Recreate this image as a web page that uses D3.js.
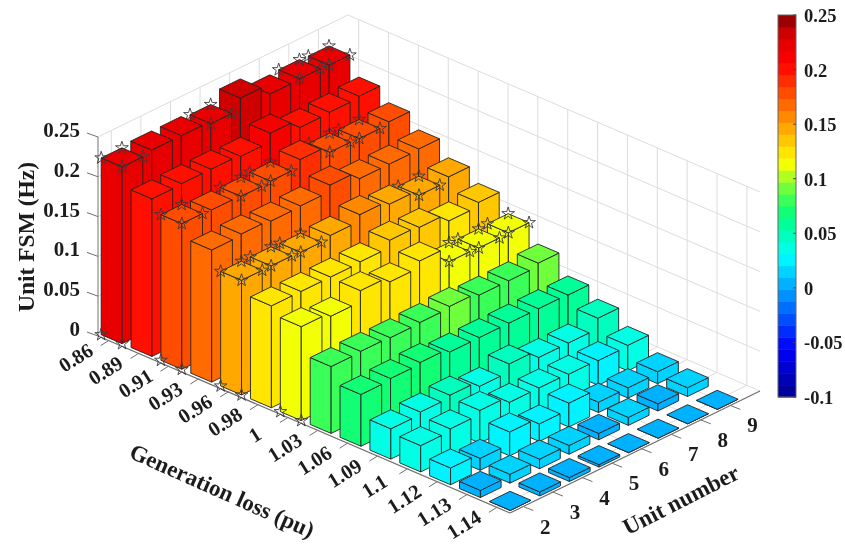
<!DOCTYPE html>
<html lang="en">
<head>
    <meta charset="UTF-8">
    <title>Unit FSM</title>
    <script src="https://d3js.org/d3.v7.min.js"></script>
    <style>
        html, body {
            margin: 0;
            background: #fff;
        }

        svg {
            display: block;
            filter: blur(0.4px);
        }

        text {
            font-family: "Liberation Serif", serif;
            font-weight: bold;
            fill: #1c1c1c;
        }
    </style>
</head>

<body>
<svg id="chart"></svg>

<script>
    const genLoss = ["0.86", "0.89", "0.91", "0.93", "0.96", "0.98", "1", "1.03", "1.06", "1.09", "1.1", "1.12", "1.13", "1.14"];
    const units = [2, 3, 4, 5, 6, 7, 8, 9];
    const zTicks = [0, 0.05, 0.1, 0.15, 0.2, 0.25];
    const zLabels = ["0", "0.05", "0.1", "0.15", "0.2", "0.25"];
    const cbTicks = [-0.1, -0.05, 0, 0.05, 0.1, 0.15, 0.2, 0.25];
    const cbLabels = ["-0.1", "-0.05", "0", "0.05", "0.1", "0.15", "0.2", "0.25"];

    // one row per generation loss, columns are units 2..9
    const fsm = [
        [0.222, 0.225, 0.225, 0.222, 0.236, 0.223, 0.224, 0.223],
        [0.198, 0.199, 0.199, 0.197, 0.208, 0.197, 0.198, 0.200],
        [0.183, 0.182, 0.181, 0.182, 0.191, 0.182, 0.181, 0.184],
        [0.166, 0.168, 0.166, 0.167, 0.175, 0.165, 0.165, 0.166],
        [0.144, 0.144, 0.143, 0.146, 0.154, 0.149, 0.142, 0.147],
        [0.128, 0.128, 0.128, 0.129, 0.138, 0.136, 0.126, 0.131],
        [0.118, 0.113, 0.127, 0.120, 0.128, 0.109, 0.108, 0.109],
        [0.084, 0.085, 0.084, 0.085, 0.087, 0.083, 0.083, 0.087],
        [0.065, 0.067, 0.069, 0.064, 0.064, 0.064, 0.064, 0.063],
        [0.038, 0.041, 0.044, 0.037, 0.047, 0.037, 0.037, 0.050],
        [0.033, 0.036, 0.041, 0.033, 0.033, 0.032, 0.031, 0.032],
        [0.021, 0.015, 0.030, 0.022, 0.030, 0.013, 0.013, 0.015],
        [0.009, 0.011, 0.012, 0.011, 0.008, 0.010, 0.009, 0.011],
        [0.000, 0.005, 0.005, 0.003, 0.000, 0.000, 0.000, 0.000]
    ];

    // starred bars: generation row -> unit numbers
    const starRows = [0, 2, 4, 6];
    const starUnits = [[2, 5, 8, 9], [2, 4, 5, 7, 8], [2, 3, 4, 8], [7, 8, 9]];

    // jet-like map
    const jetStops = [0, 0.13, 0.37, 0.47, 0.53, 0.615, 0.875, 0.925, 0.96, 1];
    const jetColors = ["#00008f", "#0000ff", "#00ffff", "#00ff82", "#4bff4b", "#ffff00", "#ff0000", "#e60000", "#c80000", "#800000"];

    const width = 845;
    const height = 545;
    const barHalf = 0.35;
    const svg = d3.select("#chart").attr("width", width).attr("height", height);

    // oblique axes of the box, all three through scales
    const sa = d3.scaleLinear().domain([0.642, 14.44]).range([0, 1]);
    const sb = d3.scaleLinear().domain([1.55, 10]).range([0, 1]);
    const sz = d3.scaleLinear().domain([0, 0.25]).range([0, 199]);
    const origin = [98, 336], vecA = [412, 177], vecB = [250, -122];
    const [a0, a1] = sa.domain();
    const [b0, b1] = sb.domain();

    function project(a, b, z) {
        return [
            origin[0] + sa(a) * vecA[0] + sb(b) * vecB[0],
            origin[1] + sa(a) * vecA[1] + sb(b) * vecB[1] - sz(z)
        ];
    }

    const jet = d3.scaleLinear().domain(jetStops).range(jetColors);
    const colorT = d3.scaleLinear().domain([-0.1, 0.25]).range([0, 1]);
    const levels = 32;

    function barColor(v) {
        const level = Math.min(levels - 1, Math.floor(colorT(v) * levels));
        return jet((level + 0.5) / levels);
    }

    const line = d3.line();

    function segment(g, p, q, stroke, w) {
        g.append("path").attr("d", line([p, q]))
            .attr("stroke", stroke).attr("stroke-width", w).attr("fill", "none");
    }

    // walls and floor grid
    const grid = svg.append("g");
    const gridColor = "#dcdcdc";
    units.forEach(function (u) {
        segment(grid, project(a0, u, 0), project(a0, u, 0.25), gridColor, 1);
        segment(grid, project(a0, u, 0), project(a1, u, 0), gridColor, 1);
    });
    genLoss.forEach(function (d, i) {
        segment(grid, project(i + 1, b1, 0), project(i + 1, b1, 0.25), gridColor, 1);
        segment(grid, project(i + 1, b0, 0), project(i + 1, b1, 0), gridColor, 1);
    });
    zTicks.forEach(function (z) {
        segment(grid, project(a0, b0, z), project(a0, b1, z), gridColor, 1);
        segment(grid, project(a0, b1, z), project(a1, b1, z), gridColor, 1);
    });

    // axis lines, ticks, labels
    const axisColor = "#6e6e6e";
    const axes = svg.append("g");
    segment(axes, project(a0, b0, 0), project(a0, b0, 0.25), "#8a8a8a", 1.2);
    segment(axes, project(a0, b0, 0), project(a1, b0, 0), axisColor, 1.2);
    segment(axes, project(a1, b0, 0), project(a1, b1, 0), axisColor, 1.2);

    zTicks.forEach(function (z, i) {
        const p = project(a0, b0, z);
        const e = [p[0] - 11, p[1] - 4];
        segment(axes, p, e, axisColor, 1);
        axes.append("text").attr("x", e[0] - 7).attr("y", e[1] - 3)
            .attr("text-anchor", "end").attr("dominant-baseline", "central")
            .attr("font-size", 21).text(zLabels[i]);
    });

    genLoss.forEach(function (d, i) {
        const p = project(i + 1, b0, 0);
        const e = [p[0] - 8, p[1] + 5];
        segment(axes, p, e, axisColor, 1);
        axes.append("text")
            .attr("transform", `translate(${e[0] - 25},${e[1] + 12}) rotate(-32)`)
            .attr("text-anchor", "middle").attr("dominant-baseline", "central")
            .attr("font-size", 20.5).text(d);
    });

    units.forEach(function (u) {
        const p = project(a1, u, 0);
        const e = [p[0] + 10, p[1] + 4];
        segment(axes, p, e, axisColor, 1);
        axes.append("text").attr("x", e[0] + 12).attr("y", e[1] + 16)
            .attr("text-anchor", "middle").attr("dominant-baseline", "central")
            .attr("font-size", 21).text(u);
    });

    svg.append("text").attr("transform", "translate(26,237) rotate(-90)")
        .attr("text-anchor", "middle").attr("dominant-baseline", "central")
        .attr("font-size", 23.5).text("Unit FSM (Hz)");
    svg.append("text").attr("transform", "translate(222,491) rotate(24)")
        .attr("text-anchor", "middle").attr("dominant-baseline", "central")
        .attr("font-size", 23).text("Generation loss (pu)");
    svg.append("text").attr("transform", "translate(681,500) rotate(-27)")
        .attr("text-anchor", "middle").attr("dominant-baseline", "central")
        .attr("font-size", 23).text("Unit number");

    // bars, back to front
    const star = d3.symbol().type(d3.symbolStar).size(50);
    const bars = svg.append("g").attr("stroke-linejoin", "round");

    function drawStar(p) {
        bars.append("path").attr("d", star)
            .attr("transform", `translate(${p[0]},${p[1]})`)
            .attr("fill", "none").attr("stroke", "#3a3a3a").attr("stroke-width", 0.9);
    }

    function poly(points, fill) {
        bars.append("path").attr("d", line(points) + "Z")
            .attr("fill", fill).attr("stroke", "#222").attr("stroke-width", 0.9);
    }

    fsm.forEach(function (row, r) {
        const a = r + 1;
        units.slice().reverse().forEach(function (u) {
            const v = row[units.indexOf(u)];
            const c = barColor(v);
            const left = [a - barHalf, u - barHalf];
            const front = [a + barHalf, u - barHalf];
            const right = [a + barHalf, u + barHalf];
            const back = [a - barHalf, u + barHalf];
            poly([project(...left, 0), project(...front, 0), project(...front, v), project(...left, v)], c);
            poly([project(...front, 0), project(...right, 0), project(...right, v), project(...front, v)], c);
            poly([project(...left, v), project(...front, v), project(...right, v), project(...back, v)], c);

            const si = starRows.indexOf(r);
            if (si >= 0 && starUnits[si].includes(u)) {
                [left, back, right, front].forEach(function (q) {
                    drawStar(project(...q, v));
                });
            }
            if (si >= 0 && u === units[0]) {
                drawStar(project(...left, 0));
                drawStar(project(...front, 0));
            }
        });
    });

    // colour bar
    const cbY = d3.scaleLinear().domain([-0.1, 0.25]).range([397, 15]);
    const cbLeft = 778, cbRight = 796;
    const cb = svg.append("g");
    d3.range(levels).forEach(function (i) {
        const lo = -0.1 + i * 0.35 / levels;
        const hi = lo + 0.35 / levels;
        cb.append("rect").attr("x", cbLeft).attr("width", cbRight - cbLeft)
            .attr("y", cbY(hi)).attr("height", cbY(lo) - cbY(hi) + 0.5)
            .attr("fill", jet((i + 0.5) / levels));
    });
    cb.append("rect").attr("x", cbLeft).attr("y", cbY(0.25))
        .attr("width", cbRight - cbLeft).attr("height", cbY(-0.1) - cbY(0.25))
        .attr("fill", "none").attr("stroke", "#666").attr("stroke-width", 1);
    cbTicks.forEach(function (t, i) {
        segment(cb, [cbRight - 3, cbY(t)], [cbRight, cbY(t)], "#444", 1);
        cb.append("text").attr("x", 804).attr("y", cbY(t) + 1)
            .attr("dominant-baseline", "central")
            .attr("font-size", 18.5).text(cbLabels[i]);
    });
</script>
</body>
</html>
